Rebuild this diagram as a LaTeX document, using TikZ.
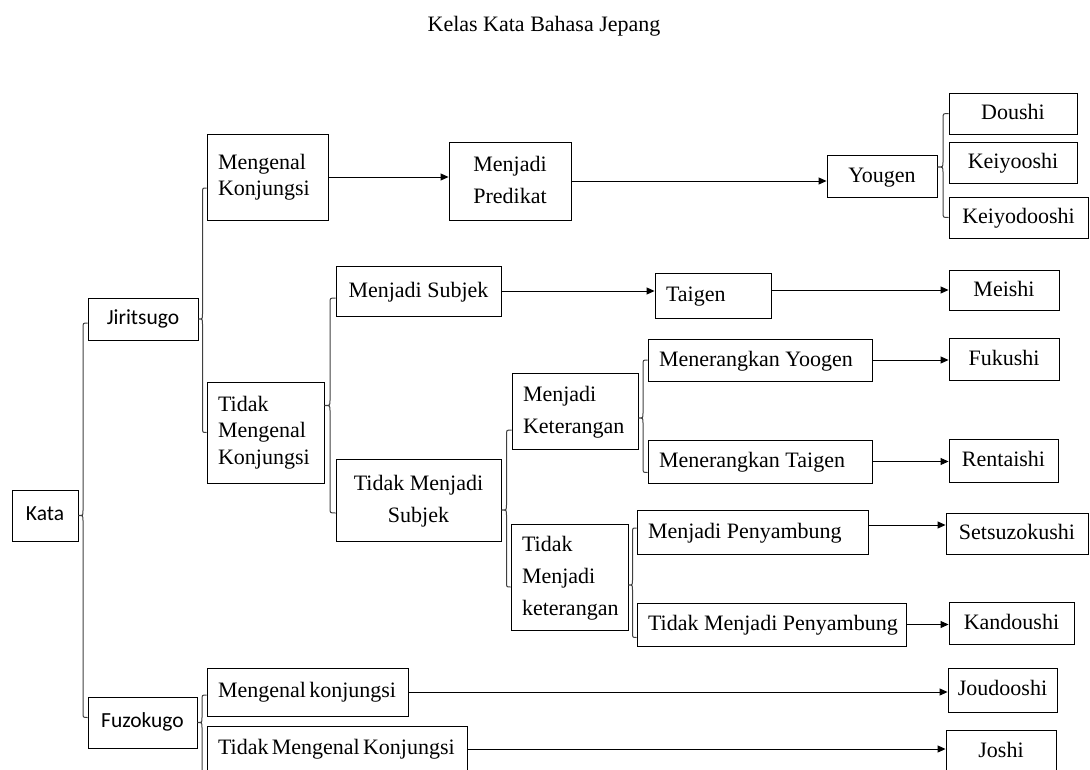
\documentclass[tikz,border=0pt]{standalone}
\usepackage{fontspec}
\setmainfont{Liberation Serif}
\newfontfamily\carl{Carlito}
\newfontfamily\condf[WordSpace=0.6]{Liberation Serif}
\usetikzlibrary{arrows.meta,calc}

\tikzset{
  box/.style={draw, line width=0.9pt, inner xsep=11pt, inner ysep=0pt,
              font=\fontsize{22}{32}\selectfont},
  tight/.style={font=\fontsize{22}{26.5}\selectfont},
  cal/.style={font=\carl\fontsize{21.5}{26}\selectfont},
  cond/.style={font=\condf\fontsize{22}{26}\selectfont},
  arr/.style={line width=0.9pt, -{Triangle[length=8pt,width=7pt]}},
  brc/.style={line width=1pt, draw=black!75},
  ttl/.style={font=\fontsize{22}{26}\selectfont, anchor=base, inner sep=0pt},
}

% \bx[style]{name}{x1}{y1}{x2}{y2}{l|c}{text}
\newcommand\bx[8][]{%
  \pgfmathsetmacro\bw{#5-#3}%
  \pgfmathsetmacro\bh{#6-#4}%
  \pgfmathsetmacro\bcx{(#3+#5)/2}%
  \pgfmathsetmacro\bcy{(#4+#6)/2}%
  \pgfmathsetmacro\btw{#5-#3-22}%
  \node[box,#1,minimum width=\bw pt,minimum height=\bh pt] (#2) at (\bcx,\bcy)
    {\makebox[\btw pt][#7]{\begin{tabular}{@{}#7@{}}#8\end{tabular}}};}

% \brc{tip}{top end}{bottom end}
\newcommand\brc[3]{%
  \draw[brc] let \p1=(#1), \p2=(#2), \p3=(#3), \p4=($(\p1)!0.5!(\p2)$) in
    (\p2) .. controls (\x4,\y2) .. (\x4,\y2-5pt)
    -- (\x4,\y1+5pt) .. controls (\x4,\y1) .. (\p1)
    .. controls (\x4,\y1) .. (\x4,\y1-5pt)
    -- (\x4,\y3+5pt) .. controls (\x4,\y3) .. (\p3);}

\begin{document}
\begin{tikzpicture}[x=1pt,y=-1pt]
\useasboundingbox (0,0) rectangle (1090,769);
\clip (0,0) rectangle (1090,769);

\node[ttl] (title) at (544,31) {Kelas Kata Bahasa Jepang};

\bx[cal]{Kata}{12}{490}{78}{541}{c}{Kata}
\bx[cal]{Jiritsugo}{88}{298}{198}{340}{c}{Jiritsugo}
\bx[cal]{Fuzokugo}{88}{697}{197}{748}{c}{Fuzokugo}

\bx[tight]{MK}{207}{134}{328}{220}{l}{Mengenal\\Konjungsi}
\bx[tight]{TMK}{207}{382}{324}{483}{l}{Tidak\\Mengenal\\Konjungsi}
\bx{MPd}{449}{142}{571}{220}{c}{Menjadi\\Predikat}
\bx{Yougen}{827}{155}{937}{197}{c}{Yougen}
\bx{Doushi}{949}{93}{1077}{134}{c}{Doushi}
\bx{Keiyooshi}{949}{142}{1077}{183}{c}{Keiyooshi}
\bx{Keiyodooshi}{949}{197}{1088}{238}{c}{Keiyodooshi}

\bx{MS}{336}{266}{501}{316}{c}{Menjadi Subjek}
\bx{TMS}{336}{459}{501}{541}{c}{Tidak Menjadi\\Subjek}
\bx{Taigen}{655}{273}{771}{318}{l}{Taigen}
\bx{Meishi}{949}{270}{1059}{310}{c}{Meishi}

\bx{MKet}{512}{373}{638}{449}{l}{Menjadi\\Keterangan}
\bx{TMKet}{511}{524}{628}{630}{l}{Tidak\\Menjadi\\keterangan}
\bx{MY}{648}{339}{872}{381}{l}{Menerangkan Yoogen}
\bx{MT}{648}{440}{872}{483}{l}{Menerangkan Taigen}
\bx{Fukushi}{949}{338}{1059}{380}{c}{Fukushi}
\bx{Rentaishi}{949}{439}{1058}{482}{c}{Rentaishi}

\bx{MPy}{637}{510}{868}{554}{l}{Menjadi Penyambung}
\bx{TMP}{637}{603}{906}{646}{l}{Tidak Menjadi Penyambung}
\bx{Setsu}{946}{513}{1088}{554}{c}{Setsuzokushi}
\bx{Kandoushi}{949}{602}{1074}{644}{c}{Kandoushi}

\bx[cond]{ML}{207}{668}{408}{716}{l}{Mengenal konjungsi}
\bx[cond]{TMK2}{207}{726}{467}{772}{l}{Tidak Mengenal Konjungsi}
\bx[cond]{Joudooshi}{948}{668}{1057}{712}{c}{Joudooshi}
\bx[cond]{Joshi}{946}{730}{1056}{774}{c}{Joshi}

% arrows
\draw[arr] (MK.east) -- (MK.east -| MPd.west);
\draw[arr] (MPd.east) -- (MPd.east -| Yougen.west);
\draw[arr] (MS.east) -- (MS.east -| Taigen.west);
\draw[arr] (Taigen.east |- Meishi.west) -- (Meishi.west);
\draw[arr] (MY.east) -- (MY.east -| Fukushi.west);
\draw[arr] (MT.east) -- (MT.east -| Rentaishi.west);
\coordinate (mpa) at ([yshift=7pt]MPy.east);
\draw[arr] (mpa) -- (mpa -| Setsu.west);
\draw[arr] (TMP.east) -- (TMP.east -| Kandoushi.west);
\draw[arr] (ML.east) -- (ML.east -| Joudooshi.west);
\draw[arr] (TMK2.east) -- (TMK2.east -| Joshi.west);

% braces
\brc{Kata.east}{[yshift=-4pt]Jiritsugo.west}{[yshift=5pt]Fuzokugo.west}
\brc{Jiritsugo.east}{[yshift=-11pt]MK.west}{TMK.west}
\brc{[yshift=27pt]TMK.east}{[yshift=-7pt]MS.west}{[yshift=-13pt]TMS.west}
\brc{[yshift=-10pt]TMS.east}{[yshift=-19pt]MKet.west}{[yshift=-10pt]TMKet.west}
\brc{[yshift=-7pt]MKet.east}{MY.west}{[yshift=-11pt]MT.west}
\brc{[yshift=-8pt]TMKet.east}{[yshift=4pt]MPy.west}{[yshift=-13pt]TMP.west}
\brc{[yshift=9pt]Yougen.east}{Doushi.west}{Keiyodooshi.west}
\coordinate (fzb) at (207,790);
\brc{Fuzokugo.east}{[yshift=-3pt]ML.west}{fzb}
\end{tikzpicture}
\end{document}
